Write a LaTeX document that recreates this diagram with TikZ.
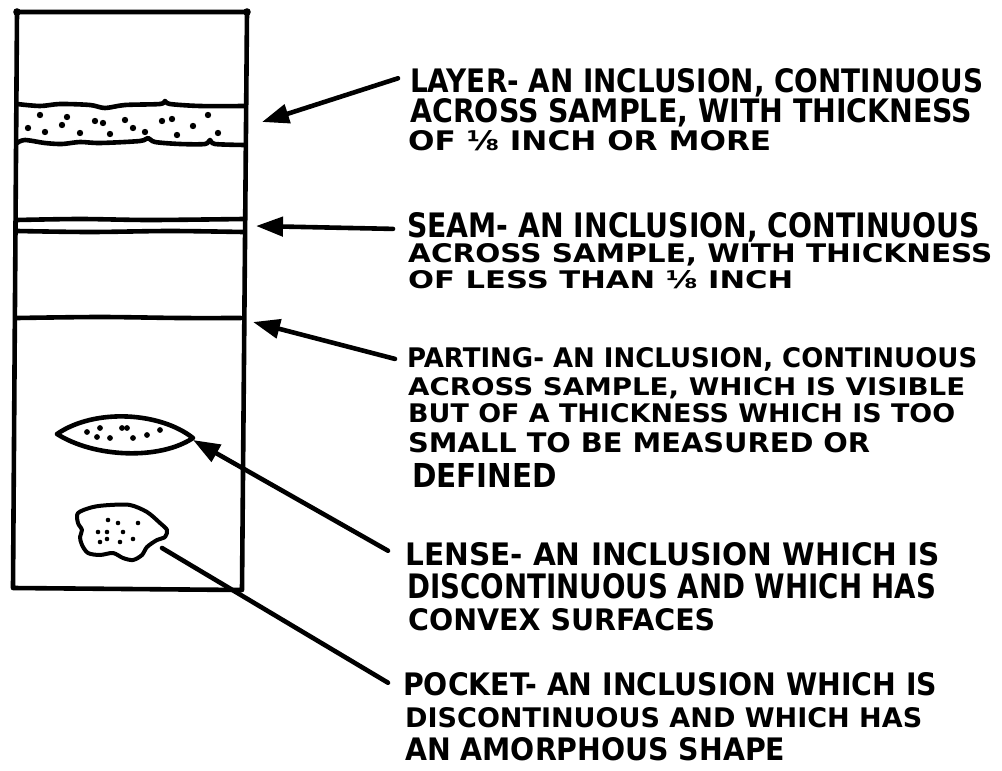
\documentclass[tikz,border=0pt]{standalone}
\usepackage{fontspec}
\setmainfont{DejaVu Sans}
\usepackage{graphicx}
\usetikzlibrary{arrows.meta,calc}
\tikzset{
  ink/.style={line width=4.6pt, line cap=round, line join=round},
  arr/.style={ink, -{Triangle[length=27pt,width=19pt]}},
  txt/.style={inner sep=0pt, anchor=base west, font=\bfseries},
  grain/.style={fill=black},
}
% one hand-lettered line: name, x, baseline, width, cap height, text
\newcommand{\tline}[6]{\node[txt] (#1) at (#2,#3) {\resizebox{#4pt}{#5pt}{#6}};}
\begin{document}
\begin{tikzpicture}[x=1pt,y=-1pt]
\useasboundingbox[fill=white] (0,0) rectangle (1002,771);

% sample column
\draw[ink] (17,12) -- (247,12) -- (242,590) -- (13,588) -- cycle;
\fill (17,12) circle (3.8pt) (247,12) circle (3.8pt);

% layer band
\draw[ink] plot[smooth] coordinates {(17,104) (40,106) (60,104) (90,105) (105,108) (125,105) (160,104) (165,101) (170,104) (200,106) (245,106)};
\draw[ink] plot[smooth] coordinates {(17,143) (25,140) (45,143) (62,144) (80,142) (100,143) (140,141) (148,138) (155,142) (180,144) (205,144) (210,140) (215,144) (245,145)};
\foreach \p in {(40,115),(67,117),(28,128),(45,132),(62,125),(80,133),(95,121),(103,123),(110,134),(125,120),(133,128),(145,132),(162,121),(172,119),(177,135),(193,126),(208,115),(218,133)}
  \fill[grain] \p circle (3.2pt);

% seam
\draw[ink] plot[smooth] coordinates {(17,220) (80,219) (150,220) (243,219)};
\draw[ink] plot[smooth] coordinates {(17,231) (90,232) (170,231) (243,232)};

% parting
\draw[ink] plot[smooth] coordinates {(17,318) (100,317) (180,318) (241,318)};

% lense
\draw[ink] (57,434) .. controls (95,408) and (160,412) .. (193,438)
               .. controls (160,460) and (95,458) .. (57,434);
\foreach \p in {(87,432),(100,428),(97,437),(110,438),(122,428),(127,428),(133,438),(147,435),(160,430)}
  \fill[grain] \p circle (2.9pt);

% pocket
\draw[ink, line width=4pt] plot[smooth cycle] coordinates {(78,513) (93,507) (110,505) (130,505) (147,512) (160,523) (167,530) (165,537) (157,540) (147,547) (142,555) (133,560) (123,558) (113,553) (100,555) (88,553) (82,545) (80,537) (82,530) (78,523)};
\foreach \p in {(108,520),(118,523),(138,523),(98,532),(107,532),(123,532),(100,542),(107,539),(120,542),(133,539)}
  \fill[grain] \p circle (2.3pt);

% points on the column that the leaders reach
\coordinate (layertip) at (262,122);
\coordinate (seamtip) at (256,226);
\coordinate (partingtip) at (253,322);
\coordinate (lensetip) at (193,440);
\coordinate (pocketend) at (162,548);

% definitions
\tline{layerA}{410}{92}{573}{24}{LAYER- AN INCLUSION, CONTINUOUS}
\tline{layerB}{410}{122}{562}{24}{ACROSS SAMPLE, WITH THICKNESS}
\tline{layerC}{408}{150}{363}{20}{OF ⅛ INCH OR MORE}

\tline{seamA}{407}{237}{573}{25}{SEAM- AN INCLUSION, CONTINUOUS}
\tline{seamB}{408}{262}{584}{19}{ACROSS SAMPLE, WITH THICKNESS}
\tline{seamC}{408}{288}{385}{18}{OF LESS THAN ⅛ INCH}

\tline{partingA}{407}{367}{570}{20}{PARTING- AN INCLUSION, CONTINUOUS}
\tline{partingB}{408}{395}{557}{18}{ACROSS SAMPLE, WHICH IS VISIBLE}
\tline{partingC}{408}{422}{547}{19}{BUT OF A THICKNESS WHICH IS TOO}
\tline{partingD}{408}{452}{462}{20}{SMALL TO BE MEASURED OR}
\tline{partingE}{412}{487}{145}{24}{DEFINED}

\tline{lenseA}{405}{565}{535}{23}{LENSE- AN INCLUSION WHICH IS}
\tline{lenseB}{407}{598}{529}{25}{DISCONTINUOUS AND WHICH HAS}
\tline{lenseC}{408}{630}{307}{22}{CONVEX SURFACES}

\tline{pocketA}{403}{695}{534}{23}{POCKET- AN INCLUSION WHICH IS}
\tline{pocketB}{405}{727}{517}{20}{DISCONTINUOUS AND WHICH HAS}
\tline{pocketC}{405}{760}{380}{23}{AN AMORPHOUS SHAPE}

% leaders
\draw[arr] ($(layerA.west)+(-12,-4)$) -- (layertip);
\draw[arr] ($(seamA.west)+(-14,2)$) -- (seamtip);
\draw[arr] ($(partingA.west)+(-12,0)$) -- (partingtip);
\draw[arr] ($(lenseA.west)+(-17,-3)$) -- (lensetip);
\draw[ink] ($(pocketA.west)+(-15,-1)$) -- (pocketend);
\end{tikzpicture}
\end{document}
